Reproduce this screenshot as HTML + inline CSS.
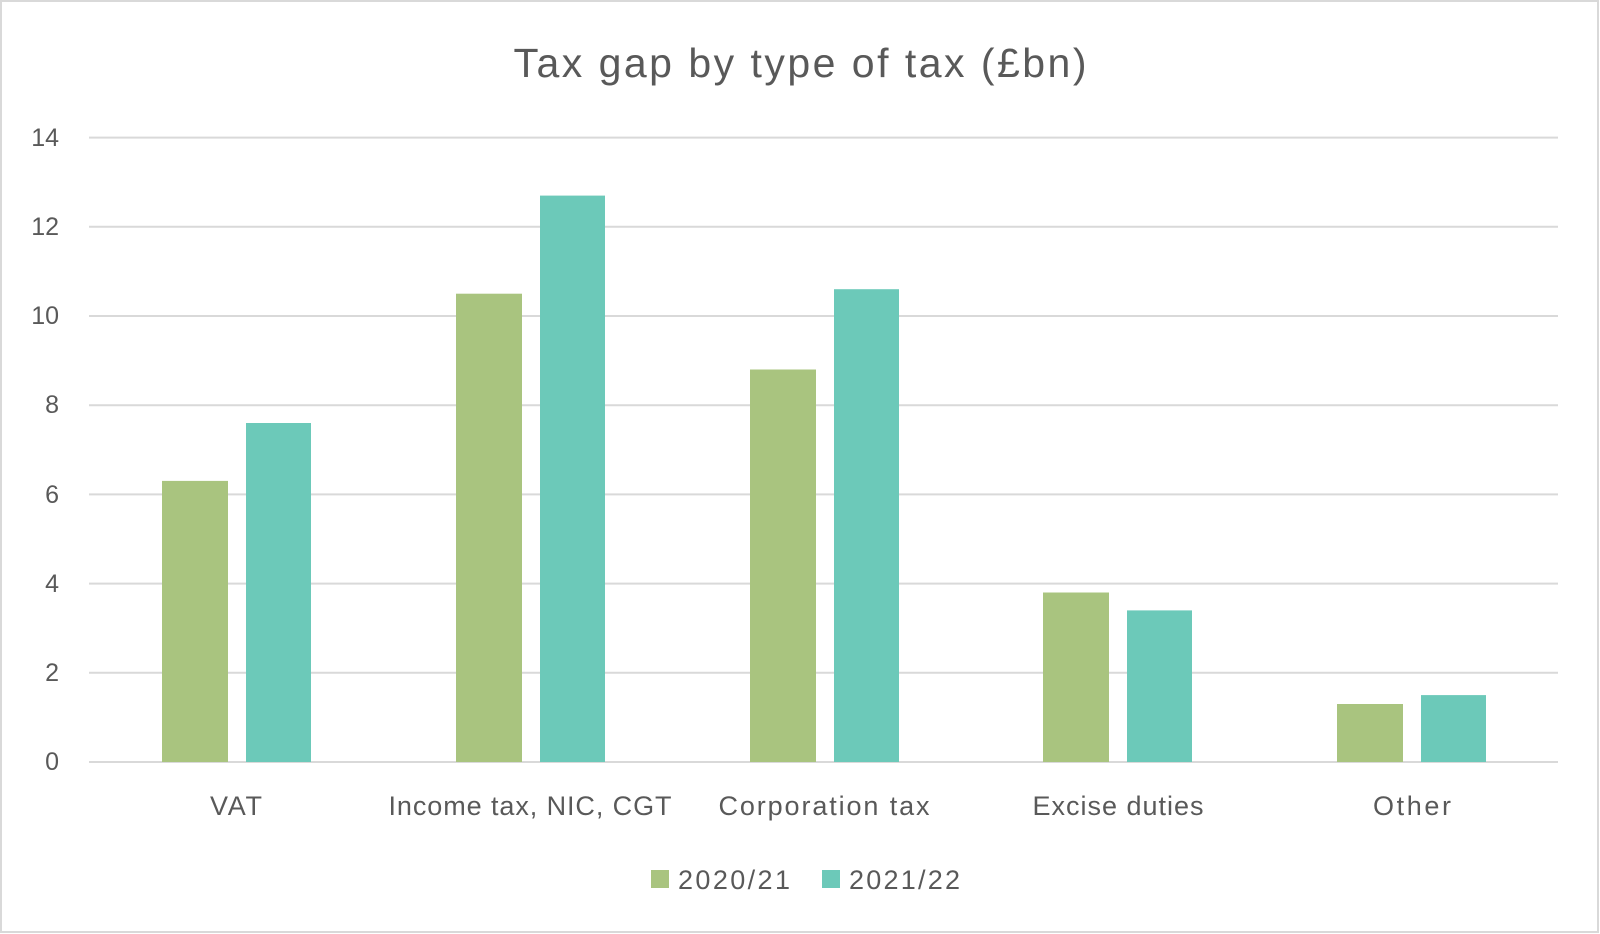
<!DOCTYPE html>
<html><head><style>
body{margin:0;width:1600px;height:934px;background:#fff;overflow:hidden}
svg{display:block}
text{font-family:"Liberation Sans",sans-serif;fill:#595959}
</style></head><body>
<svg width="1600" height="934" viewBox="0 0 1600 934">
<rect x="1" y="1" width="1597" height="931" fill="#fff" stroke="#d9d9d9" stroke-width="2"/>
<text x="800" y="77" font-size="41" text-anchor="middle" textLength="573" lengthAdjust="spacing">Tax gap by type of tax (£bn)</text>
<g stroke="#d9d9d9" stroke-width="2">
<line x1="89" x2="1558" y1="137.6" y2="137.6"/>
<line x1="89" x2="1558" y1="226.8" y2="226.8"/>
<line x1="89" x2="1558" y1="316" y2="316"/>
<line x1="89" x2="1558" y1="405.2" y2="405.2"/>
<line x1="89" x2="1558" y1="494.4" y2="494.4"/>
<line x1="89" x2="1558" y1="583.6" y2="583.6"/>
<line x1="89" x2="1558" y1="672.8" y2="672.8"/>
<line x1="89" x2="1558" y1="762" y2="762"/>
</g>
<g font-size="25" text-anchor="end">
<text x="59" y="146">14</text><text x="59" y="235">12</text><text x="59" y="324">10</text>
<text x="59" y="413">8</text><text x="59" y="503">6</text><text x="59" y="592">4</text>
<text x="59" y="681">2</text><text x="59" y="770">0</text>
</g>
<g fill="#a9c47f">
<rect x="162" y="480.9" width="66" height="281.1"/>
<rect x="456" y="293.7" width="66" height="468.3"/>
<rect x="750" y="369.5" width="66" height="392.5"/>
<rect x="1043" y="592.5" width="66" height="169.5"/>
<rect x="1337" y="704" width="66" height="58"/>
</g>
<g fill="#6cc9b9">
<rect x="246" y="423" width="65" height="339"/>
<rect x="540" y="195.6" width="65" height="566.4"/>
<rect x="834" y="289.2" width="65" height="472.8"/>
<rect x="1127" y="610.4" width="65" height="151.6"/>
<rect x="1421" y="695.1" width="65" height="66.9"/>
</g>
<g font-size="27" text-anchor="middle" lengthAdjust="spacing">
<text x="236" y="815" textLength="52">VAT</text>
<text x="530" y="815" textLength="283">Income tax, NIC, CGT</text>
<text x="824" y="815" textLength="211">Corporation tax</text>
<text x="1118" y="815" textLength="171">Excise duties</text>
<text x="1412" y="815" textLength="78">Other</text>
</g>
<rect x="651" y="870" width="18" height="18" fill="#a9c47f"/>
<text x="678" y="889" font-size="27" textLength="112" lengthAdjust="spacing">2020/21</text>
<rect x="822" y="870" width="18" height="18" fill="#6cc9b9"/>
<text x="849" y="889" font-size="27" textLength="111" lengthAdjust="spacing">2021/22</text>
</svg>
</body></html>
